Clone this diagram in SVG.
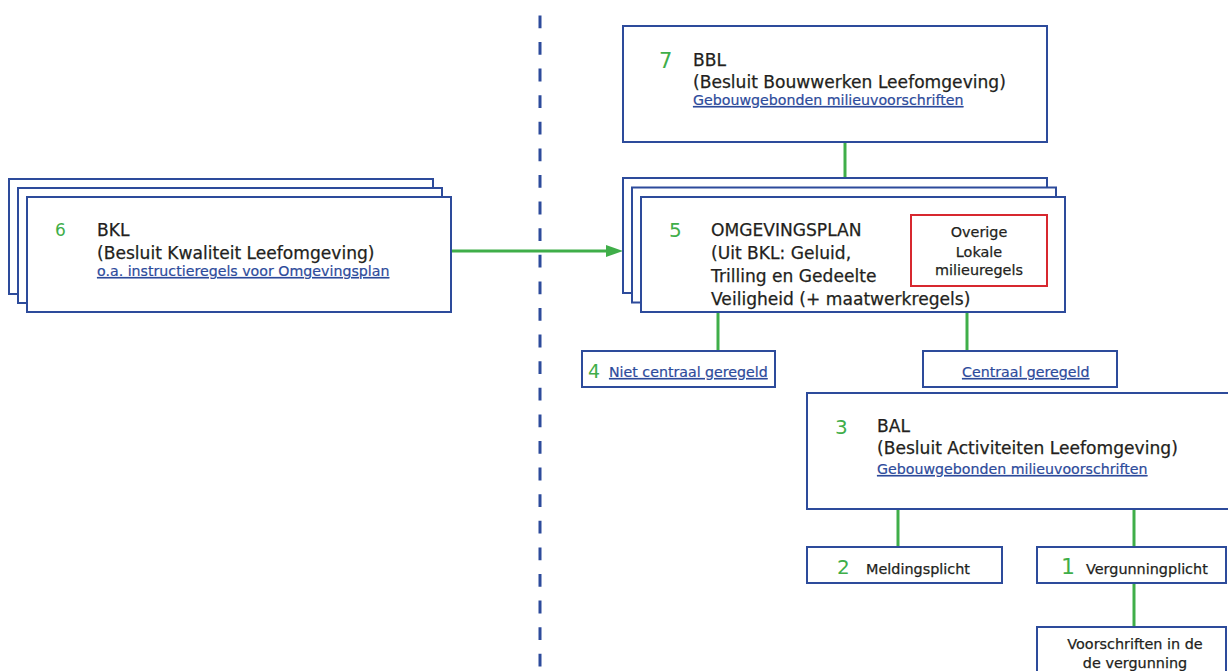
<svg xmlns="http://www.w3.org/2000/svg" width="1228" height="671" viewBox="0 0 1228 671">
<style>
.box{fill:#fff;stroke:#2d4b9b;stroke-width:2}
.red{fill:#fff;stroke:#d7282f;stroke-width:2}
.con{stroke:#3fae49;stroke-width:3;fill:none}
.t{font-family:"DejaVu Sans",sans-serif;fill:#231f20;stroke:#231f20;stroke-width:0.25}
.big{font-size:17.1px}
.sm{font-size:14.4px}
.lnk{font-family:"DejaVu Sans",sans-serif;font-size:14.2px;fill:#2d4b9b;stroke:#2d4b9b;stroke-width:0.2;text-decoration:underline}
.num{font-family:"DejaVu Sans",sans-serif;fill:#3fae49}
</style>
<rect width="1228" height="671" fill="#fff"/>
<line x1="540" y1="15.4" x2="540" y2="668" stroke="#2d4b9b" stroke-width="3" stroke-dasharray="12.8 13.8"/>
<g id="connectors">
<line class="con" x1="451" y1="251" x2="607" y2="251"/>
<polygon points="606,245 623,251 606,257" fill="#3fae49"/>
<line class="con" x1="845" y1="142" x2="845" y2="178"/>
<line class="con" x1="718" y1="312" x2="718" y2="351"/>
<line class="con" x1="967" y1="312" x2="967" y2="351"/>
<line class="con" x1="898" y1="509" x2="898" y2="547"/>
<line class="con" x1="1134" y1="509" x2="1134" y2="547"/>
<line class="con" x1="1134" y1="583" x2="1134" y2="627"/>
</g>
<g id="bkl">
<rect class="box" x="9" y="179" width="424" height="115"/>
<rect class="box" x="18" y="188" width="424" height="115"/>
<rect class="box" x="27" y="197" width="424" height="115"/>
<text class="num" x="55" y="236" font-size="17">6</text>
<text class="t big" x="97" y="236">BKL</text>
<text class="t big" x="97" y="259">(Besluit Kwaliteit Leefomgeving)</text>
<text class="lnk" x="97" y="276">o.a. instructieregels voor Omgevingsplan</text>
</g>
<g id="bbl">
<rect class="box" x="623" y="26" width="424" height="116"/>
<text class="num" x="659" y="68" font-size="21">7</text>
<text class="t big" x="693" y="66">BBL</text>
<text class="t big" x="693" y="88">(Besluit Bouwwerken Leefomgeving)</text>
<text class="lnk" x="693" y="105">Gebouwgebonden milieuvoorschriften</text>
</g>
<g id="omgevingsplan">
<rect class="box" x="623" y="178" width="424" height="115"/>
<rect class="box" x="632" y="187.5" width="424" height="115"/>
<rect class="box" x="641" y="197" width="424" height="115"/>
<text class="num" x="669" y="237" font-size="20">5</text>
<text class="t big" x="711" y="236">OMGEVINGSPLAN</text>
<text class="t big" x="711" y="259">(Uit BKL: Geluid,</text>
<text class="t big" x="711" y="282">Trilling en Gedeelte</text>
<text class="t big" x="711" y="305">Veiligheid (+ maatwerkregels)</text>
</g>
<g id="overige">
<rect class="red" x="911" y="215" width="136" height="71"/>
<text class="t sm" x="979" y="237" text-anchor="middle">Overige</text>
<text class="t sm" x="979" y="257" text-anchor="middle">Lokale</text>
<text class="t sm" x="979" y="275" text-anchor="middle">milieuregels</text>
</g>
<g id="niet-centraal">
<rect class="box" x="582" y="351" width="193" height="36"/>
<text class="num" x="588" y="378" font-size="19">4</text>
<text class="lnk" x="609" y="377">Niet centraal geregeld</text>
</g>
<g id="centraal">
<rect class="box" x="923" y="351" width="194" height="36"/>
<text class="lnk" x="962" y="377">Centraal geregeld</text>
</g>
<g id="bal">
<rect class="box" x="807" y="393" width="430" height="116"/>
<text class="num" x="835" y="434" font-size="20">3</text>
<text class="t big" x="877" y="432">BAL</text>
<text class="t big" x="877" y="454">(Besluit Activiteiten Leefomgeving)</text>
<text class="lnk" x="877" y="474">Gebouwgebonden milieuvoorschriften</text>
</g>
<g id="melding">
<rect class="box" x="807" y="547" width="195" height="36"/>
<text class="num" x="837" y="574" font-size="20">2</text>
<text class="t sm" x="866" y="574">Meldingsplicht</text>
</g>
<g id="vergunning">
<rect class="box" x="1037" y="547" width="189" height="36"/>
<text class="num" x="1061" y="574" font-size="22">1</text>
<text class="t sm" x="1086" y="574">Vergunningplicht</text>
</g>
<g id="voorschriften">
<rect class="box" x="1037" y="627" width="189" height="60"/>
<text class="t sm" x="1135" y="649" text-anchor="middle">Voorschriften in de</text>
<text class="t sm" x="1135" y="668" text-anchor="middle">de vergunning</text>
</g>
</svg>
